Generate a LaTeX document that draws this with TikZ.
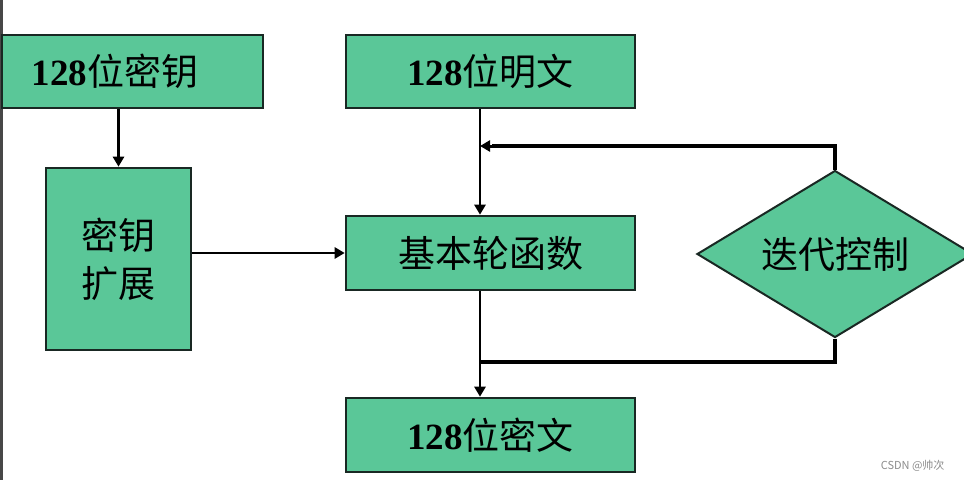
\documentclass[tikz,border=0pt]{standalone}
\usepackage{fontspec}
\setmainfont{Liberation Serif}
\newfontfamily\cjk{Noto Sans CJK SC}
\usetikzlibrary{shapes.geometric,arrows.meta}
\definecolor{boxgreen}{RGB}{90,199,152}
\definecolor{edgeline}{RGB}{25,40,35}
\begin{document}
\begin{tikzpicture}[x=1pt,y=-1pt,
  box/.style={draw=edgeline, line width=2.6pt, fill=boxgreen, inner sep=0pt, align=center},
  dia/.style={diamond, aspect=1.65, draw=edgeline, line width=2pt, fill=boxgreen, inner sep=0pt},
  arr/.style={line width=2.6pt, -{Triangle[length=10pt,width=11pt]}},
  fb/.style={line width=3.4pt},
  bigtxt/.style={font=\fontsize{37}{40}\selectfont},
  midtxt/.style={font=\cjk\fontsize{37}{48}\selectfont}
]
\useasboundingbox (0,0) rectangle (964,480);
\fill[white] (0,0) rectangle (964,480);
\fill[black!72] (0,0) rectangle (3,480);

\node[box, minimum width=261pt, minimum height=73pt, bigtxt] (k) at (132.5,71.5)
  {\makebox[235pt][l]{\hspace{17pt}\textbf{128}{\cjk 位密钥}}};
\node[box, minimum width=289pt, minimum height=73pt, bigtxt] (p) at (490.5,71.5)
  {\textbf{128}{\cjk 位明文}};
\node[box, minimum width=145pt, minimum height=182pt, midtxt] (ke) at (118.5,259)
  {\raisebox{-6pt}{\parbox{100pt}{\centering 密钥\\扩展}}};
\node[box, minimum width=289pt, minimum height=74pt, midtxt] (f) at (490.5,253) {基本轮函数};
\node[box, minimum width=289pt, minimum height=74pt, bigtxt] (c) at (490.5,435)
  {\textbf{128}{\cjk 位密文}};
\node[dia, minimum width=276pt, minimum height=167pt, midtxt] (d) at (835,254) {迭代控制};

\coordinate (top) at (480,146);
\coordinate (bot) at (480,362);

\draw[arr] (k.south -| ke.north) -- (ke.north);
\draw[arr] (p.south -| top) -- (f.north -| top);
\draw[fb] (d.north) |- ([xshift=12pt]top);
\draw[arr, line width=3pt] ([xshift=12pt]top) -- (top);
\draw[arr] (ke.east |- f.west) -- (f.west);
\draw[arr] (f.south -| bot) -- (c.north -| bot);
\draw[fb] (d.south) |- (bot);

\node[text=black!45, font=\cjk\fontsize{11}{12}\selectfont, anchor=east] (wm) at (948,466) {CSDN @帅次};
\end{tikzpicture}
\end{document}
